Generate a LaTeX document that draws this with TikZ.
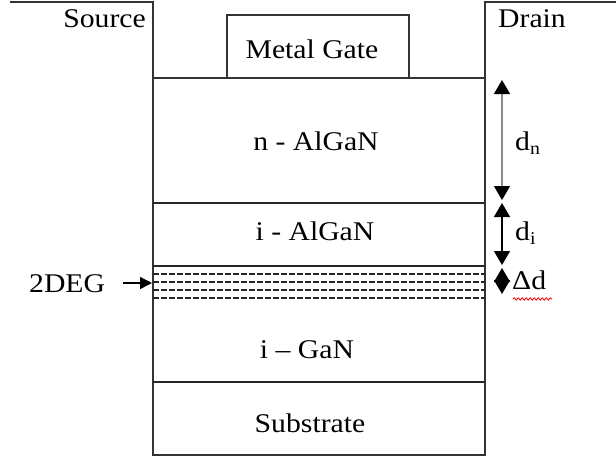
\documentclass[tikz,border=0pt]{standalone}
\usepackage{fontspec}
\setmainfont{Liberation Serif}[FakeStretch=1.1]
\usetikzlibrary{arrows.meta,decorations.pathmorphing}

\tikzset{
  wall/.style={draw=black!80, line width=1.5pt},
  layerline/.style={draw=black!85, line width=1.3pt},
  dashline/.style={draw=black!85, line width=1.1pt, dash pattern=on 6pt off 2pt},
  lbl/.style={inner sep=0pt, font=\fontsize{27}{32}\selectfont},
  dimarrow/.style={line width=1.4pt, {Triangle[length=14pt,width=16pt,color=black]}-{Triangle[length=14pt,width=16pt,color=black]}},
}
\newcommand{\subtxt}[1]{\raisebox{-0.35ex}{\fontsize{18}{18}\selectfont #1}}

\begin{document}
\begin{tikzpicture}[x=1pt,y=-1pt]
  \useasboundingbox (0,0) rectangle (616,459);

  % source and drain contacts
  \draw[wall] (10,2) -- (153,2) -- (153,78);
  \draw[wall] (616,2) -- (485,2) -- (485,78);
  % metal gate
  \draw[wall] (227,78) -- (227,15) -- (409,15) -- (409,78);

  % layer stack
  \draw[wall] (153,78) rectangle (485,455);
  \draw[layerline] (153,203) -- (485,203);
  \draw[layerline] (153,266) -- (485,266);
  \draw[layerline] (153,382) -- (485,382);
  \foreach \y in {274,282,290,298}
    \draw[dashline] (153,\y) -- (485,\y);

  % labels
  \node[lbl, anchor=base east] (src) at (146,27) {Source};
  \node[lbl, anchor=base west] (drn) at (498,27) {Drain};
  \node[lbl, anchor=base] (gate) at (312,58) {Metal Gate};
  \node[lbl, anchor=base] (nalgan) at (316,150) {n - AlGaN};
  \node[lbl, anchor=base] (ialgan) at (315,240) {i - AlGaN};
  \node[lbl, anchor=base] (igan) at (307,358) {i – GaN};
  \node[lbl, anchor=base] (sub) at (310,432) {Substrate};
  \node[lbl, anchor=base west] (deg) at (29,292) {2DEG};

  % 2DEG pointer
  \coordinate (degtip) at (152,283);
  \coordinate (degtail) at (123,283);
  \draw[line width=1.4pt, -{Triangle[length=12pt,width=12pt]}] (degtail) -- (degtip);

  % thickness markers
  \coordinate (dnTop) at (502,80);
  \coordinate (dnBot) at (502,200);
  \coordinate (diTop) at (502,203);
  \coordinate (diBot) at (502,265);
  \coordinate (ddTop) at (502,268);
  \coordinate (ddBot) at (502,294);
  \draw[dimarrow, draw=black!45] (dnTop) -- (dnBot);
  \draw[dimarrow] (diTop) -- (diBot);
  \draw[dimarrow] (ddTop) -- (ddBot);

  \node[lbl, anchor=base west] (dn) at (515,150) {d\subtxt{n}};
  \node[lbl, anchor=base west] (di) at (515,240) {d\subtxt{i}};
  \node[lbl, anchor=base west] (dd) at (512,289) {Δd};
  \draw[red, line width=0.8pt, decorate,
        decoration={snake, amplitude=1.2pt, segment length=4pt}]
    (513,299) -- (552,299);
\end{tikzpicture}
\end{document}
